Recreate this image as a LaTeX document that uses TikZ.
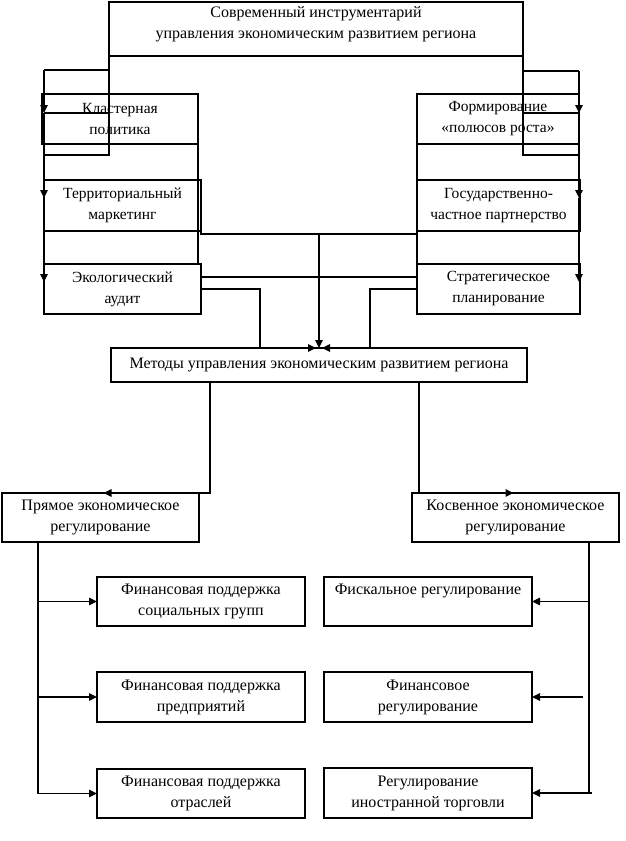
\documentclass[tikz,border=0pt]{standalone}
\usepackage{fontspec}
\setmainfont{Liberation Serif}
\usetikzlibrary{arrows.meta,calc}
\begin{document}
\begin{tikzpicture}[x=1pt,y=-1pt,
  line width=1.1pt,
  txt/.style={font=\fontsize{16}{21}\selectfont, align=center},
  txs/.style={font=\fontsize{15.5}{21}\selectfont, align=center},
  bx/.style={draw, rectangle, inner sep=0pt, outer sep=0pt, txt},
  bxs/.style={bx, txs},
  arr/.style={-{Triangle[length=8pt,width=7.5pt]}}]
\useasboundingbox (0,0) rectangle (625,841);
% boxes
\node[bx, minimum width=414pt, minimum height=54pt,
  label={[txt, yshift=4.5pt]center:{Современный инструментарий\\управления экономическим развитием региона}}] (top) at (316,29) {};
\node[bxs, minimum width=156pt, minimum height=50pt] (klas) at (120,119) {Кластерная\\политика};
\node[bxs, minimum width=157pt, minimum height=51pt] (terr) at (122.5,205.5) {Территориальный\\маркетинг};
\node[bxs, minimum width=157pt, minimum height=50pt] (eco) at (122.5,289) {Экологический\\аудит};
\node[bxs, minimum width=162pt, minimum height=50pt] (form) at (498,119) {Формирование\\«полюсов роста»};
\node[bxs, minimum width=163pt, minimum height=51pt] (gos) at (498.5,205.5) {Государственно-\\частное партнерство};
\node[bxs, minimum width=163pt, minimum height=50pt] (strat) at (498.5,289) {Стратегическое\\планирование};
\node[bx, minimum width=416pt, minimum height=34pt] (meth) at (319,365) {Методы управления экономическим развитием региона};
\node[bx, minimum width=197pt, minimum height=49pt] (pryam) at (100.5,517.5) {Прямое экономическое\\регулирование};
\node[bx, minimum width=207pt, minimum height=49pt] (kosv) at (515.5,517.5) {Косвенное экономическое\\регулирование};
\node[bx, minimum width=208pt, minimum height=49pt] (f1) at (201,601.5) {Финансовая поддержка\\социальных групп};
\node[bx, minimum width=208pt, minimum height=50pt] (f2) at (201,697) {Финансовая поддержка\\предприятий};
\node[bx, minimum width=208pt, minimum height=49pt] (f3) at (201,793.5) {Финансовая поддержка\\отраслей};
\node[bx, minimum width=208pt, minimum height=49pt,
  label={[txt, yshift=10.5pt]center:Фискальное регулирование}] (r1) at (428,601.5) {};
\node[bx, minimum width=208pt, minimum height=50pt] (r2) at (428,697) {Финансовое\\регулирование};
\node[bx, minimum width=208pt, minimum height=50pt] (r3) at (428,793) {Регулирование\\иностранной торговли};
% left upper connector
\coordinate (L1) at (44,70);
\coordinate (L2) at (44,113);
\coordinate (L3) at (44,198);
\coordinate (L4) at (44,282);
\coordinate (L5) at (44,155);
\draw (top.south west) -- (top.south west |- L1) -- (L1);
\draw[arr] (L1) -- (L2);
\draw[arr] (L2) -- (L3);
\draw[arr] (L3) -- (L4);
\draw (top.south west) -- (top.south west |- L5) -- (L5);
\draw (L2) -- (L2 -| top.west);
% right upper connector
\coordinate (R1) at (579,71);
\coordinate (R2) at (579,113);
\coordinate (R3) at (579,198);
\coordinate (R4) at (579,282);
\coordinate (R5) at (579,155);
\draw (top.south east) -- (top.south east |- R1) -- (R1);
\draw[arr] (R1) -- (R2);
\draw[arr] (R2) -- (R3);
\draw[arr] (R3) -- (R4);
\draw (top.south east) -- (top.south east |- R5) -- (R5);
\draw (R2) -- (R2 -| top.east);
% middle connectors
\draw (klas.south east) -- (klas.south east |- eco.north);
\draw (terr.south east) -- ++(0,3) coordinate (M1) -| (form.south west);
\draw (form.south west) -- (strat.north west);
\draw[arr] (M1 -| meth.north) -- (meth.north);
\draw ([yshift=12pt]eco.east) -- ([yshift=12pt]strat.west);
\draw (eco.east) -| ([xshift=-59pt]meth.north);
\draw (strat.west) -| ([xshift=51pt]meth.north);
\draw[arr] ([xshift=-15pt]meth.north) -- ([xshift=-3pt]meth.north);
\draw[arr] ([xshift=15pt]meth.north) -- ([xshift=3pt]meth.north);
% methods to regulation
\draw[arr] ([xshift=-109pt]meth.south) |- ([xshift=3pt]pryam.north);
\draw[arr] ([xshift=100pt]meth.south) |- ([xshift=-2pt]kosv.north);
% bottom left
\coordinate (B1) at (38,542);
\draw[arr] (B1) |- (f3.west);
\draw[arr] (B1 |- f1.west) -- (f1.west);
\draw[arr] (B1 |- f2.west) -- (f2.west);
% bottom right
\coordinate (B2) at (589,542);
\draw (B2) -- (B2 |- r3.east);
\draw[arr] (B2 |- r1.east) -- (r1.east);
\draw[arr] ($(B2 |- r2.east)+(-6,0)$) -- (r2.east);
\draw[arr] ($(B2 |- r3.east)+(3,0)$) -- (r3.east);
\end{tikzpicture}
\end{document}
